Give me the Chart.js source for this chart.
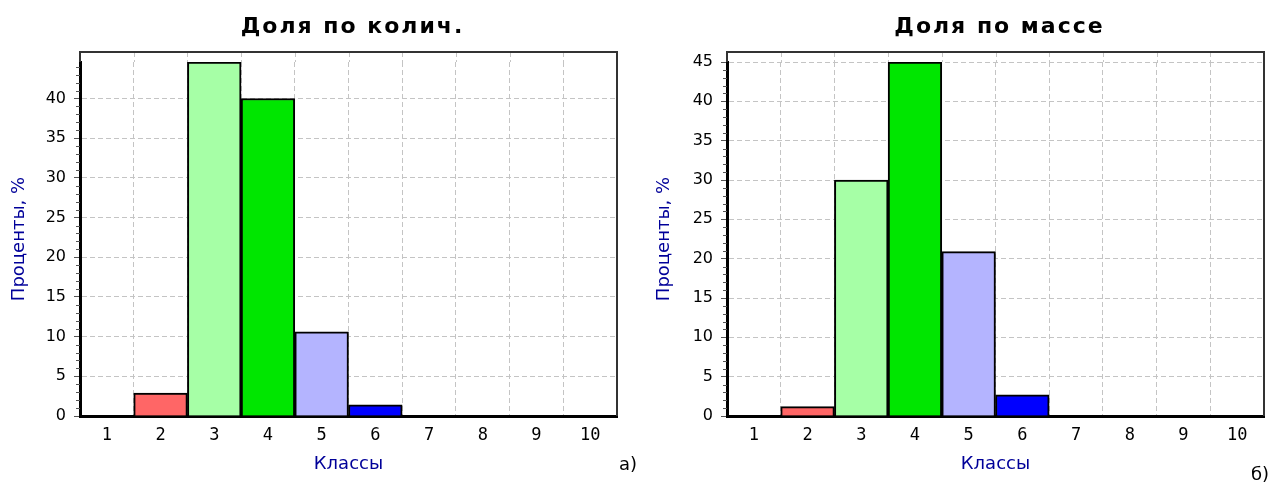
<!DOCTYPE html>
<html lang="ru">
<head>
<meta charset="UTF-8">
<title>Доля по количеству и по массе</title>
<style>
  html, body { margin: 0; padding: 0; background: #fff; }
  .wrap { position: relative; width: 1279px; height: 483px; overflow: hidden; }
  .panel { position: absolute; top: 0; height: 483px; }
  #left { left: 0; width: 640px; }
  #right { left: 640px; width: 639px; }
</style>
</head>
<body>
<div class="wrap">
  <div class="panel" id="left"><canvas id="chartCount" width="640" height="483"></canvas></div>
  <div class="panel" id="right"><canvas id="chartMass" width="639" height="483"></canvas></div>
</div>

<script src="https://cdn.jsdelivr.net/npm/chart.js"></script>
<script>
// data
const classLabels = ['1', '2', '3', '4', '5', '6', '7', '8', '9', '10'];
const countShare = [0, 2.9, 44.6, 40, 10.6, 1.4, 0, 0, 0, 0];
const massShare = [0, 1.2, 30, 45, 20.9, 2.7, 0, 0, 0, 0];
const countTitle = 'Доля по колич.';
const massTitle = 'Доля по массе';
const yTitle = 'Проценты, %';
const xTitle = 'Классы';

const barColors = ['#ffffff', '#ff6666', '#a6ffa6', '#00e600', '#b4b4ff', '#0000ff',
  '#ffffff', '#ffffff', '#ffffff', '#ffffff'];

Chart.defaults.font.family = '"DejaVu Sans", sans-serif';
Chart.defaults.color = '#000';

// frame above the axis, minor ticks, title and the а)/б) mark
const sheetDecor = {
  id: 'sheetDecor',
  afterDraw(chart, args, opts) {
    const { ctx, chartArea: a, scales } = chart;
    const x = scales.x, y = scales.y;
    const frameTop = a.top - 10;
    ctx.save();

    // grid extension up to the frame
    ctx.strokeStyle = '#c4c4c4';
    ctx.lineWidth = 1;
    ctx.setLineDash([5, 3]);
    for (let i = 0; i < classLabels.length - 1; i++) {
      const gx = Math.round((x.getPixelForValue(i) + x.getPixelForValue(i + 1)) / 2) + 0.5;
      ctx.beginPath();
      ctx.moveTo(gx, frameTop);
      ctx.lineTo(gx, a.top);
      ctx.stroke();
    }
    ctx.setLineDash([]);

    // frame
    ctx.strokeStyle = '#333';
    ctx.lineWidth = 2;
    ctx.beginPath();
    ctx.moveTo(a.left, a.top);
    ctx.lineTo(a.left, frameTop);
    ctx.lineTo(a.right, frameTop);
    ctx.lineTo(a.right, a.bottom);
    ctx.stroke();

    // minor ticks on the value axis
    ctx.strokeStyle = '#555';
    ctx.lineWidth = 1;
    for (let v = 1; v < y.max; v++) {
      if (v % 5 === 0) continue;
      const py = Math.round(y.getPixelForValue(v)) + 0.5;
      ctx.beginPath();
      ctx.moveTo(a.left - 4, py);
      ctx.lineTo(a.left, py);
      ctx.stroke();
    }

    // title
    ctx.fillStyle = '#000';
    ctx.font = 'bold 22px "DejaVu Sans", sans-serif';
    ctx.letterSpacing = '2px';
    ctx.textAlign = 'center';
    ctx.textBaseline = 'alphabetic';
    ctx.fillText(opts.title, (a.left + a.right) / 2 + 4, 33);

    // panel mark
    ctx.letterSpacing = '0px';
    ctx.font = '18px "DejaVu Sans", sans-serif';
    ctx.textAlign = 'left';
    ctx.textBaseline = 'middle';
    ctx.fillText(opts.mark, opts.markX, opts.markY);
    ctx.restore();
  }
};

function makeChart(id, values, cfg) {
  const yMax = Math.max(...values);
  return new Chart(document.getElementById(id), {
    type: 'bar',
    data: {
      labels: classLabels,
      datasets: [{
        data: values,
        backgroundColor: barColors,
        borderColor: '#000',
        borderWidth: 2,
        barPercentage: 1,
        categoryPercentage: 1
      }]
    },
    options: {
      responsive: false,
      animation: false,
      events: [],
      layout: { padding: { top: 62, right: cfg.padRight, left: 0, bottom: 0 } },
      plugins: {
        legend: { display: false },
        tooltip: { enabled: false },
        sheetDecor: { title: cfg.title, mark: cfg.mark, markX: cfg.markX, markY: cfg.markY }
      },
      scales: {
        x: {
          afterFit: (s) => { s.height = 67; },
          grid: { offset: true, color: '#c4c4c4', drawTicks: false },
          border: { color: '#000', width: 3, dash: [5, 3] },
          ticks: {
            padding: 9,
            color: '#000',
            font: { family: '"DejaVu Sans Mono", monospace', size: 17 }
          },
          title: {
            display: true,
            text: xTitle,
            color: '#000099',
            font: { size: 18 },
            padding: { top: 0, bottom: 8 }
          }
        },
        y: {
          min: 0,
          max: yMax,
          afterFit: (s) => { s.width = cfg.axisWidth; },
          grid: { color: '#c4c4c4', tickColor: '#555', tickLength: 6 },
          border: { color: '#000', width: 3, dash: [5, 3] },
          ticks: {
            stepSize: 5,
            includeBounds: false,
            padding: 8,
            color: '#000',
            font: { size: 16 }
          },
          title: {
            display: true,
            text: yTitle,
            color: '#000099',
            font: { size: 18 },
            padding: { top: cfg.yTitlePad, bottom: 0 }
          }
        }
      }
    },
    plugins: [sheetDecor]
  });
}

makeChart('chartCount', countShare, {
  title: countTitle, mark: 'а)', markX: 619, markY: 465,
  padRight: 23, axisWidth: 80, yTitlePad: 9
});

makeChart('chartMass', massShare, {
  title: massTitle, mark: 'б)', markX: 611, markY: 475,
  padRight: 15, axisWidth: 87, yTitlePad: 14
});
</script>
</body>
</html>
